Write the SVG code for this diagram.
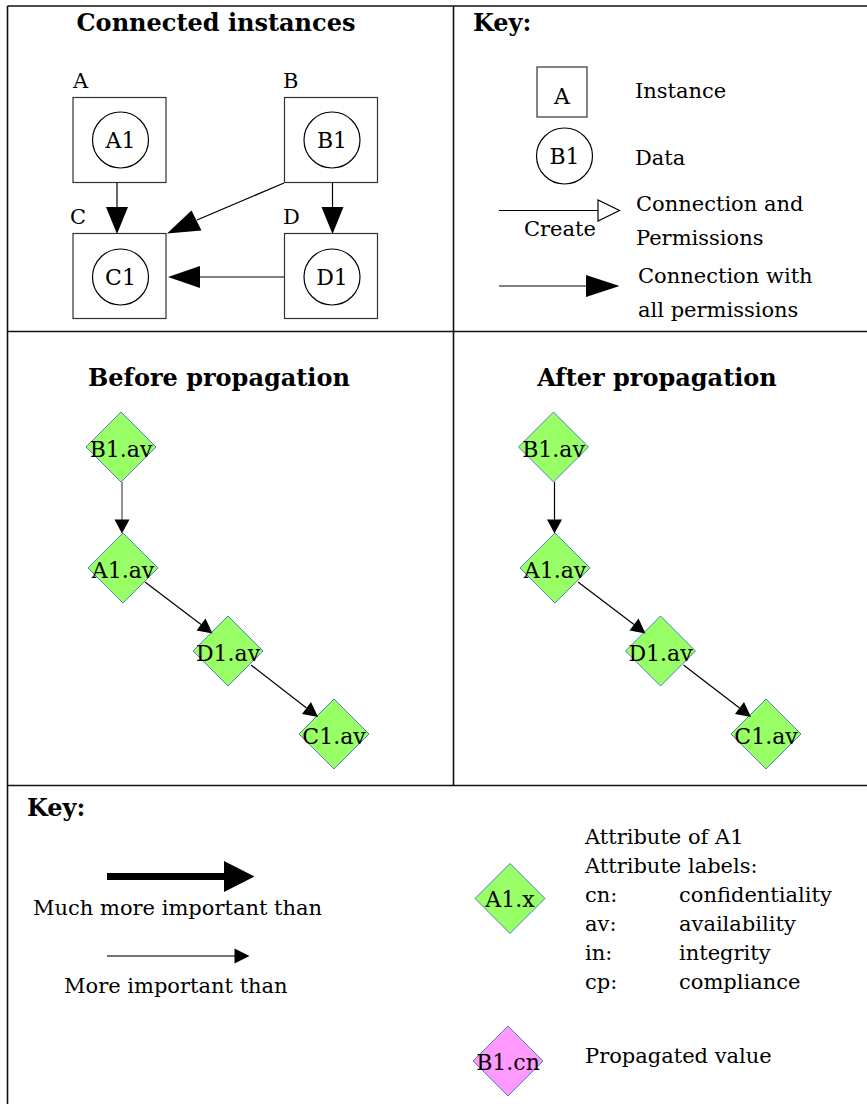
<svg xmlns="http://www.w3.org/2000/svg" width="867" height="1104" viewBox="0 0 867 1104">
<style>
.t{font-family:"DejaVu Serif","Liberation Serif",serif;font-size:21px;fill:#000}
.b{font-family:"DejaVu Serif","Liberation Serif",serif;font-weight:bold;font-size:24px;fill:#000}
.frame{stroke:#111;stroke-width:1.6;fill:none}
.box{fill:#fff;stroke:#333;stroke-width:1.2}
.circ{fill:#fff;stroke:#000;stroke-width:1.2}
.dia{fill:#99ff66;stroke:#4f81bd;stroke-width:1}
.pink{fill:#ff99ff;stroke:#4f81bd;stroke-width:1}
.ln{stroke:#000;stroke-width:1.2;fill:none}
.head{fill:#000;stroke:none}
.dt{font-family:"DejaVu Serif","Liberation Serif",serif;font-size:22px;fill:#000;text-anchor:middle}
</style>
<rect width="867" height="1104" fill="#fff"/>
<g id="frame">
<line class="frame" x1="7.5" y1="6" x2="867" y2="6"/>
<line class="frame" x1="7.5" y1="6" x2="7.5" y2="1104"/>
<line class="frame" x1="453.5" y1="6" x2="453.5" y2="786"/>
<line class="frame" x1="7.5" y1="331.5" x2="867" y2="331.5"/>
<line class="frame" x1="7.5" y1="785.5" x2="867" y2="785.5"/>
</g>
<g id="titles">
<text class="b" x="216" y="31" text-anchor="middle">Connected instances</text>
<text class="b" x="473" y="31">Key:</text>
<text class="b" x="219" y="386" text-anchor="middle">Before propagation</text>
<text class="b" x="657" y="386" text-anchor="middle">After propagation</text>
<text class="b" x="27" y="816">Key:</text>
</g>
<g id="node-A">
<text class="t" x="73" y="88">A</text>
<rect class="box" x="73" y="97.5" width="93" height="85"/>
<circle class="circ" cx="120.5" cy="140" r="28"/>
<text class="dt" x="120.5" y="147.5" font-size="21">A1</text>
</g>
<g id="node-B">
<text class="t" x="283" y="88">B</text>
<rect class="box" x="284.5" y="97.5" width="93" height="85"/>
<circle class="circ" cx="332" cy="140" r="28"/>
<text class="dt" x="332" y="147.5" font-size="21">B1</text>
</g>
<g id="node-C">
<text class="t" x="70" y="224">C</text>
<rect class="box" x="73" y="233.5" width="93" height="85"/>
<circle class="circ" cx="120.5" cy="277" r="28"/>
<text class="dt" x="120.5" y="284.5" font-size="21">C1</text>
</g>
<g id="node-D">
<text class="t" x="283" y="224">D</text>
<rect class="box" x="284.5" y="233.5" width="93" height="85"/>
<circle class="circ" cx="332" cy="277" r="28"/>
<text class="dt" x="332" y="284.5" font-size="21">D1</text>
</g>
<g id="connectors-top">
<line class="ln" x1="117" y1="182.5" x2="117" y2="207"/>
<polygon class="head" points="106,207 128,207 117,234"/>
<line class="ln" x1="332.5" y1="182.5" x2="332.5" y2="207"/>
<polygon class="head" points="321.5,207 343.5,207 332.5,234"/>
<line class="ln" x1="284" y1="183" x2="197" y2="220"/>
<polygon class="head" points="191.5,210.5 201.5,230.5 167,233.5"/>
<line class="ln" x1="284" y1="277" x2="200" y2="277"/>
<polygon class="head" points="200,266 200,288 168,277"/>
</g>
<g id="key-top">
<rect class="box" x="537" y="67" width="50" height="50"/>
<text class="dt" x="562" y="104" font-size="27">A</text>
<text class="t" x="635" y="98">Instance</text>
<circle class="circ" cx="564.5" cy="156" r="28"/>
<text class="dt" x="564.5" y="163.5" font-size="21">B1</text>
<text class="t" x="635" y="165">Data</text>
<line class="ln" x1="499" y1="210.5" x2="598" y2="210.5"/>
<polygon points="598,200 598,221 619.5,210.5" fill="#fff" stroke="#000" stroke-width="1.2"/>
<text class="t" x="524" y="236">Create</text>
<text class="t" x="636" y="211">Connection and</text>
<text class="t" x="636" y="245">Permissions</text>
<line class="ln" x1="499" y1="286" x2="590" y2="286"/>
<polygon class="head" points="586,275 586,297 619.5,286"/>
<text class="t" x="638" y="283">Connection with</text>
<text class="t" x="638" y="317">all permissions</text>
</g>
<g id="before">
<g id="b-B1av"><polygon class="dia" points="121,412 156,447 121,482 86,447"/><text class="dt" x="121" y="457">B1.av</text></g>
<g id="b-A1av"><polygon class="dia" points="123,533 158,568 123,603 88,568"/><text class="dt" x="123" y="578">A1.av</text></g>
<g id="b-D1av"><polygon class="dia" points="228,616 263,651 228,686 193,651"/><text class="dt" x="228" y="661">D1.av</text></g>
<g id="b-C1av"><polygon class="dia" points="334,699 369,734 334,769 299,734"/><text class="dt" x="334" y="744">C1.av</text></g>
</g>
<g id="after">
<g id="a-B1av"><polygon class="dia" points="553.5,412 588.5,447 553.5,482 518.5,447"/><text class="dt" x="553.5" y="457">B1.av</text></g>
<g id="a-A1av"><polygon class="dia" points="555,533 590,568 555,603 520,568"/><text class="dt" x="555" y="578">A1.av</text></g>
<g id="a-D1av"><polygon class="dia" points="660.5,616 695.5,651 660.5,686 625.5,651"/><text class="dt" x="660.5" y="661">D1.av</text></g>
<g id="a-C1av"><polygon class="dia" points="766,699 801,734 766,769 731,734"/><text class="dt" x="766" y="744">C1.av</text></g>
</g>
<g id="connectors-mid">
<line x1="122" y1="482" x2="122" y2="520" stroke="#777" stroke-width="1.6"/>
<polygon class="head" points="114.5,519.5 129.5,519.5 122,533.5"/>
<line class="ln" x1="145" y1="582" x2="201" y2="624.5"/>
<polygon class="head" points="196.5,630.5 205.5,618.5 212.5,633.5"/>
<line class="ln" x1="251" y1="665" x2="306.5" y2="708"/>
<polygon class="head" points="302,714 311,702 318,717"/>
<line class="ln" x1="554.5" y1="482" x2="554.5" y2="520"/>
<polygon class="head" points="547,519.5 562,519.5 554.5,533.5"/>
<line class="ln" x1="578" y1="582" x2="634" y2="624.5"/>
<polygon class="head" points="629.5,630.5 638.5,618.5 645.5,633.5"/>
<line class="ln" x1="683.5" y1="665" x2="739.5" y2="708"/>
<polygon class="head" points="735,714 744,702 751,717"/>
</g>
<g id="key-bottom">
<rect x="107" y="873" width="118" height="7" fill="#000"/>
<polygon class="head" points="224,861 224,892 254.5,876.5"/>
<text class="t" x="33" y="915" font-size="22">Much more important than</text>
<line x1="107" y1="956" x2="236" y2="956" stroke="#444" stroke-width="1.4"/>
<polygon class="head" points="234.5,948.5 234.5,963.5 249.5,956"/>
<text class="t" x="64" y="993" font-size="22">More important than</text>
<g id="k-A1x"><polygon class="dia" points="510,863.5 545,898.5 510,933.5 475,898.5"/><text class="dt" x="510" y="907">A1.x</text></g>
<text class="t" x="585" y="844">Attribute of A1</text>
<text class="t" x="585" y="873">Attribute labels:</text>
<text class="t" x="585" y="902">cn:</text><text class="t" x="679" y="902">confidentiality</text>
<text class="t" x="585" y="931">av:</text><text class="t" x="679" y="931">availability</text>
<text class="t" x="585" y="960">in:</text><text class="t" x="679" y="960">integrity</text>
<text class="t" x="585" y="989">cp:</text><text class="t" x="679" y="989">compliance</text>
<g id="k-B1cn"><polygon class="pink" points="508,1026 543,1061 508,1096 473,1061"/><text class="dt" x="508" y="1070">B1.cn</text></g>
<text class="t" x="585" y="1063">Propagated value</text>
</g>
</svg>
